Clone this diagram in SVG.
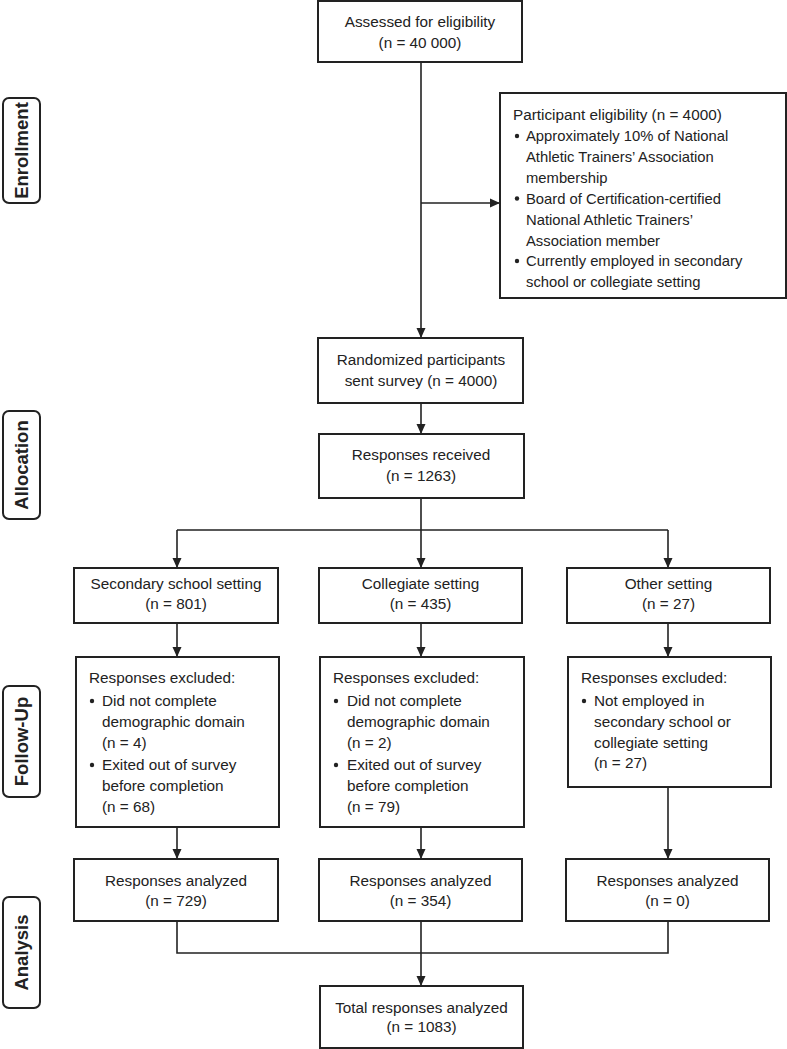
<svg xmlns="http://www.w3.org/2000/svg" width="787" height="1049" viewBox="0 0 787 1049">
<defs>
<marker id="ah" viewBox="0 0 10 10" refX="10" refY="5" markerWidth="10" markerHeight="10" markerUnits="userSpaceOnUse" orient="auto">
<path d="M0,0.5 L10,5 L0,9.5 z" fill="#222"/>
</marker>
<style>
.box{fill:#fff;stroke:#222;stroke-width:2}
.side{fill:#fff;stroke:#222;stroke-width:2}
.t{font-family:"Liberation Sans",Arial,sans-serif;font-size:15.3px;fill:#222}
.b{font-size:14.8px}
.c{text-anchor:middle}
.s{font-family:"Liberation Sans",Arial,sans-serif;font-size:18.5px;font-weight:bold;fill:#222;text-anchor:middle}
.ln{fill:none;stroke:#222;stroke-width:1.6}
.a{marker-end:url(#ah)}
.dot{fill:#222}
</style>
</defs>
<rect width="787" height="1049" fill="#fff"/>

<g id="connectors">
<path class="ln a" d="M421,62 V338"/>
<path class="ln a" d="M421,203 H500"/>
<path class="ln a" d="M421,403 V434"/>
<path class="ln" d="M421,498 V530 M177,530 H668"/>
<path class="ln a" d="M177,530 V568"/>
<path class="ln a" d="M421,530 V568"/>
<path class="ln a" d="M668,530 V568"/>
<path class="ln a" d="M177,623 V657"/>
<path class="ln a" d="M421,623 V657"/>
<path class="ln a" d="M668,623 V657"/>
<path class="ln a" d="M177,827 V859"/>
<path class="ln a" d="M421,827 V859"/>
<path class="ln a" d="M668,787 V859"/>
<path class="ln" d="M177,921 V953 H668 V921 M421,921 V953"/>
<path class="ln a" d="M421,953 V986"/>
</g>

<g id="label-enrollment">
<rect class="side" x="3" y="98" width="37" height="105" rx="6"/>
<text class="s" transform="translate(28,150.5) rotate(-90)">Enrollment</text>
</g>
<g id="label-allocation">
<rect class="side" x="3" y="411" width="37" height="108" rx="6"/>
<text class="s" transform="translate(28,465) rotate(-90)">Allocation</text>
</g>
<g id="label-followup">
<rect class="side" x="3" y="686" width="37" height="111" rx="6"/>
<text class="s" transform="translate(28,741.5) rotate(-90)">Follow-Up</text>
</g>
<g id="label-analysis">
<rect class="side" x="3" y="897" width="37" height="111" rx="6"/>
<text class="s" transform="translate(28,952.5) rotate(-90)">Analysis</text>
</g>

<g id="assessed">
<rect class="box" x="318" y="1" width="204" height="61"/>
<text class="t c" x="420" y="27">Assessed for eligibility</text>
<text class="t c" x="420" y="48">(n = 40 000)</text>
</g>

<g id="eligibility">
<rect class="box" x="500" y="93" width="286" height="205"/>
<text class="t" x="513" y="120">Participant eligibility (n = 4000)</text>
<circle class="dot" cx="517" cy="136" r="2.2"/>
<text class="t b" x="526" y="141">Approximately 10% of National</text>
<text class="t b" x="526" y="162">Athletic Trainers’ Association</text>
<text class="t b" x="526" y="183">membership</text>
<circle class="dot" cx="517" cy="198.5" r="2.2"/>
<text class="t b" x="526" y="203.5">Board of Certification-certified</text>
<text class="t b" x="526" y="224.5">National Athletic Trainers’</text>
<text class="t b" x="526" y="245.5">Association member</text>
<circle class="dot" cx="517" cy="261" r="2.2"/>
<text class="t b" x="526" y="266">Currently employed in secondary</text>
<text class="t b" x="526" y="287">school or collegiate setting</text>
</g>

<g id="randomized">
<rect class="box" x="318" y="338" width="205" height="65"/>
<text class="t c" x="421" y="365">Randomized participants</text>
<text class="t c" x="421" y="386">sent survey (n = 4000)</text>
</g>

<g id="received">
<rect class="box" x="319" y="434" width="205" height="64"/>
<text class="t c" x="421" y="460">Responses received</text>
<text class="t c" x="421" y="481">(n = 1263)</text>
</g>

<g id="secondary">
<rect class="box" x="74" y="568" width="204" height="55"/>
<text class="t c" x="176" y="589">Secondary school setting</text>
<text class="t c" x="176" y="609">(n = 801)</text>
</g>
<g id="collegiate">
<rect class="box" x="319" y="568" width="203" height="55"/>
<text class="t c" x="420.5" y="589">Collegiate setting</text>
<text class="t c" x="420.5" y="609">(n = 435)</text>
</g>
<g id="other">
<rect class="box" x="567" y="568" width="203" height="55"/>
<text class="t c" x="668.5" y="589">Other setting</text>
<text class="t c" x="668.5" y="609">(n = 27)</text>
</g>

<g id="excl-secondary">
<rect class="box" x="76" y="657" width="203" height="170"/>
<text class="t" x="89" y="683">Responses excluded:</text>
<circle class="dot" cx="92" cy="701" r="2.2"/>
<text class="t" x="102" y="706">Did not complete</text>
<text class="t" x="102" y="727">demographic domain</text>
<text class="t" x="102" y="748">(n = 4)</text>
<circle class="dot" cx="92" cy="765" r="2.2"/>
<text class="t" x="102" y="770">Exited out of survey</text>
<text class="t" x="102" y="791">before completion</text>
<text class="t" x="102" y="812">(n = 68)</text>
</g>
<g id="excl-collegiate">
<rect class="box" x="320" y="657" width="204" height="170"/>
<text class="t" x="333" y="683">Responses excluded:</text>
<circle class="dot" cx="336" cy="701" r="2.2"/>
<text class="t" x="347" y="706">Did not complete</text>
<text class="t" x="347" y="727">demographic domain</text>
<text class="t" x="347" y="748">(n = 2)</text>
<circle class="dot" cx="336" cy="765" r="2.2"/>
<text class="t" x="347" y="770">Exited out of survey</text>
<text class="t" x="347" y="791">before completion</text>
<text class="t" x="347" y="812">(n = 79)</text>
</g>
<g id="excl-other">
<rect class="box" x="568" y="657" width="203" height="130"/>
<text class="t" x="581" y="683">Responses excluded:</text>
<circle class="dot" cx="584" cy="701" r="2.2"/>
<text class="t" x="594" y="706">Not employed in</text>
<text class="t" x="594" y="727">secondary school or</text>
<text class="t" x="594" y="748">collegiate setting</text>
<text class="t" x="594" y="768">(n = 27)</text>
</g>

<g id="analyzed-secondary">
<rect class="box" x="74" y="859" width="204" height="62"/>
<text class="t c" x="176" y="886">Responses analyzed</text>
<text class="t c" x="176" y="906">(n = 729)</text>
</g>
<g id="analyzed-collegiate">
<rect class="box" x="319" y="859" width="203" height="62"/>
<text class="t c" x="420.5" y="886">Responses analyzed</text>
<text class="t c" x="420.5" y="906">(n = 354)</text>
</g>
<g id="analyzed-other">
<rect class="box" x="566" y="859" width="203" height="62"/>
<text class="t c" x="667.5" y="886">Responses analyzed</text>
<text class="t c" x="667.5" y="906">(n = 0)</text>
</g>

<g id="total">
<rect class="box" x="320" y="986" width="203" height="62"/>
<text class="t c" x="421.5" y="1013">Total responses analyzed</text>
<text class="t c" x="421.5" y="1032">(n = 1083)</text>
</g>
</svg>
